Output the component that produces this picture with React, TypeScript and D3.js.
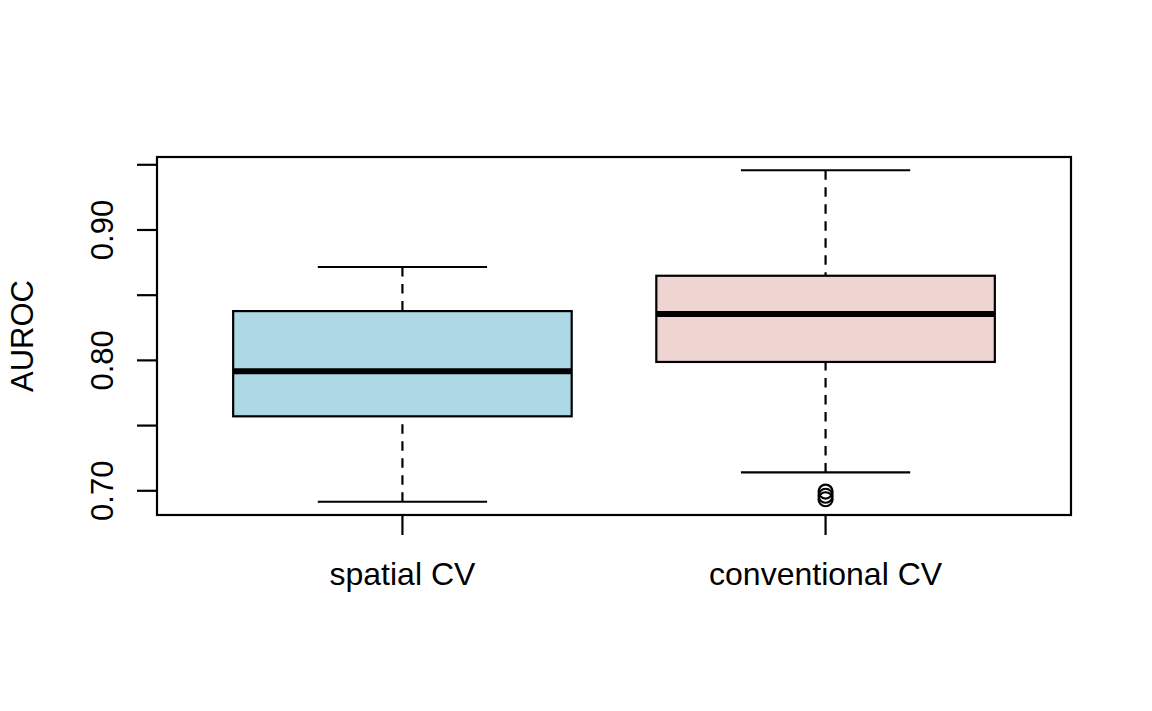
import React from "react";
import * as d3 from "d3";

const categories = ["spatial CV", "conventional CV"];
// [lower whisker, Q1, median, Q3, upper whisker]
const stats = [
  [0.6916, 0.7571, 0.7917, 0.8378, 0.8716],
  [0.7141, 0.7988, 0.8355, 0.8649, 0.9458],
];
const outliers = [[], [0.6994, 0.6962, 0.6935]];
const fills = ["#ADD8E6", "#EED5D2"];
const yTicks = [0.7, 0.75, 0.8, 0.85, 0.9, 0.95];
const yTickLabels = ["0.70", "", "0.80", "", "0.90", ""];
const yLabel = "AUROC";

const W = 1152;
const H = 711;
const left = 157, right = 1071, top = 157, bottom = 515;
const FONT = "'Liberation Sans', Arial, Helvetica, sans-serif";
const FS = 31;
const FSX = 32;

export default function App() {
  const all = [...stats.flat(), ...outliers.flat()];
  const lo = d3.min(all) as number;
  const hi = d3.max(all) as number;
  const pad = (hi - lo) * 0.04;
  const y = d3.scaleLinear().domain([lo - pad, hi + pad]).range([bottom, top]);
  const n = categories.length;
  const x = d3.scaleLinear().domain([0.5 - 0.04 * n, n + 0.5 + 0.04 * n]).range([left, right]);
  const bw = 0.4;
  const cw = 0.2;

  return (
    <svg width={W} height={H} style={{ position: "absolute", left: 0, top: 0, background: "#fff" }}>
      <rect x={0} y={0} width={W} height={H} fill="#fff" />
      {stats.map((s, i) => {
        const cx = x(i + 1);
        return (
          <g key={i}>
            <line x1={cx} x2={cx} y1={y(s[0])} y2={y(s[1])} stroke="#000" strokeWidth={2.2} strokeDasharray="9.5,7.5" />
            <line x1={cx} x2={cx} y1={y(s[4])} y2={y(s[3])} stroke="#000" strokeWidth={2.2} strokeDasharray="9.5,7.5" />
            <line x1={x(i + 1 - cw)} x2={x(i + 1 + cw)} y1={y(s[0])} y2={y(s[0])} stroke="#000" strokeWidth={2.2} />
            <line x1={x(i + 1 - cw)} x2={x(i + 1 + cw)} y1={y(s[4])} y2={y(s[4])} stroke="#000" strokeWidth={2.2} />
            <rect
              x={x(i + 1 - bw)}
              y={y(s[3])}
              width={x(i + 1 + bw) - x(i + 1 - bw)}
              height={y(s[1]) - y(s[3])}
              fill={fills[i]}
              stroke="#000"
              strokeWidth={2.2}
            />
            <line x1={x(i + 1 - bw)} x2={x(i + 1 + bw)} y1={y(s[2])} y2={y(s[2])} stroke="#000" strokeWidth={6} />
            {outliers[i].map((o, j) => (
              <circle key={j} cx={cx} cy={y(o)} r={7} fill="none" stroke="#000" strokeWidth={2.2} />
            ))}
          </g>
        );
      })}
      <rect x={left} y={top} width={right - left} height={bottom - top} fill="none" stroke="#000" strokeWidth={2.2} />
      {yTicks.map((t, i) => (
        <g key={i}>
          <line x1={left - 20} x2={left} y1={y(t)} y2={y(t)} stroke="#000" strokeWidth={2.2} />
          {yTickLabels[i] && (
            <text
              transform={`translate(113,${y(t)}) rotate(-90)`}
              textAnchor="middle"
              fontFamily={FONT}
              fontSize={FS}
              fill="#000"
            >
              {yTickLabels[i]}
            </text>
          )}
        </g>
      ))}
      {categories.map((c, i) => (
        <g key={c}>
          <line x1={x(i + 1)} x2={x(i + 1)} y1={bottom} y2={bottom + 20} stroke="#000" strokeWidth={2.2} />
          <text x={x(i + 1)} y={585} textAnchor="middle" fontFamily={FONT} fontSize={FSX} fill="#000">
            {c}
          </text>
        </g>
      ))}
      <text
        transform={`translate(33,${(top + bottom) / 2}) rotate(-90)`}
        textAnchor="middle"
        fontFamily={FONT}
        fontSize={FS}
        fill="#000"
      >
        {yLabel}
      </text>
    </svg>
  );
}
